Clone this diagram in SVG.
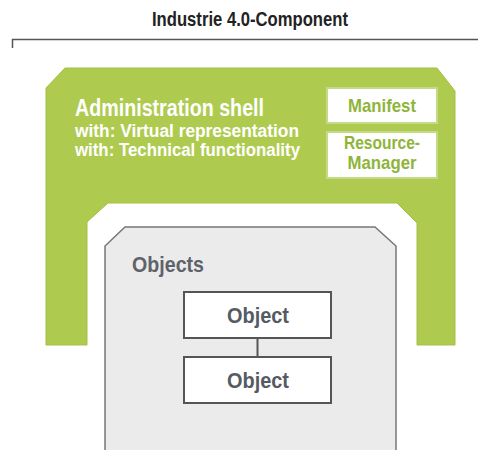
<svg xmlns="http://www.w3.org/2000/svg" width="478" height="450" viewBox="0 0 478 450">
<style>
text{font-family:"Liberation Sans",Arial,sans-serif;font-weight:bold}
.title{font-size:20px;fill:#222}
.shell{fill:#ffffff}
.gbox{fill:#ffffff;stroke:#c3da86;stroke-width:2}
.gtxt{fill:#8eb53a;font-size:19px}
.obj{fill:#ffffff;stroke:#555;stroke-width:2}
.otxt{fill:#555b63;font-size:22px}
</style>
<rect width="478" height="450" fill="#ffffff"/>
<g id="title">
<text class="title" x="250" y="26" text-anchor="middle" textLength="196" lengthAdjust="spacingAndGlyphs">Industrie 4.0-Component</text>
<path d="M12.5,48 L12.5,39.5 L478,39.5" fill="none" stroke="#555" stroke-width="1.5"/>
</g>
<g id="admin-shell">
<path d="M46,88 L65,68 L437,68 L455,91 L455,345 L417,345 L417,223 L397,203 L108,203 L87,222 L87,345 L46,345 Z" fill="#aecb50" stroke="#a3c044" stroke-width="1"/>
<text class="shell" x="75" y="116" font-size="23" textLength="189" lengthAdjust="spacingAndGlyphs">Administration shell</text>
<text class="shell" x="75" y="137" font-size="18" textLength="224" lengthAdjust="spacingAndGlyphs">with: Virtual representation</text>
<text class="shell" x="75" y="156" font-size="18" textLength="225" lengthAdjust="spacingAndGlyphs">with: Technical functionality</text>
</g>
<g id="manifest">
<rect class="gbox" x="327" y="88" width="110" height="35"/>
<text class="gtxt" x="382" y="112" text-anchor="middle" textLength="68" lengthAdjust="spacingAndGlyphs">Manifest</text>
</g>
<g id="resource-manager">
<rect class="gbox" x="327" y="132" width="110" height="46"/>
<text class="gtxt" x="382" y="149" text-anchor="middle" textLength="76" lengthAdjust="spacingAndGlyphs">Resource-</text>
<text class="gtxt" x="382" y="169" text-anchor="middle" textLength="69" lengthAdjust="spacingAndGlyphs">Manager</text>
</g>
<g id="objects">
<path d="M105,452 L105,246 L125,227 L375,227 L396,246 L396,452 Z" fill="#ebebeb" stroke="#777" stroke-width="1.5"/>
<text x="132" y="272" fill="#5f6369" font-size="22" textLength="72" lengthAdjust="spacingAndGlyphs">Objects</text>
</g>
<g id="connectors">
<line x1="257.5" y1="338" x2="257.5" y2="357" stroke="#555" stroke-width="2"/>
</g>
<g id="object-1">
<rect class="obj" x="184" y="292" width="147" height="46"/>
<text class="otxt" x="258" y="323" text-anchor="middle" textLength="62" lengthAdjust="spacingAndGlyphs">Object</text>
</g>
<g id="object-2">
<rect class="obj" x="184" y="357" width="147" height="46"/>
<text class="otxt" x="258" y="388" text-anchor="middle" textLength="62" lengthAdjust="spacingAndGlyphs">Object</text>
</g>
</svg>
